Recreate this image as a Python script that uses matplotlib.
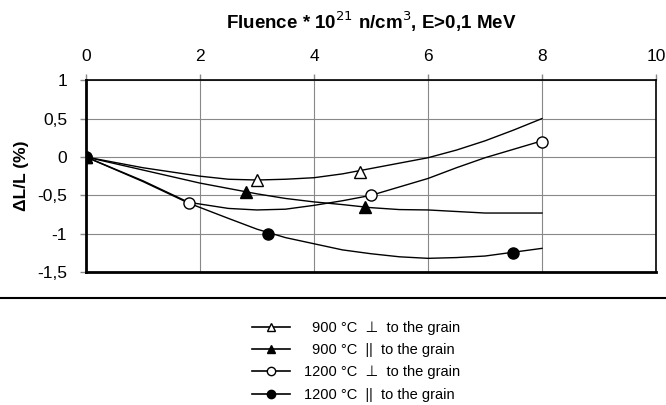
#!/usr/bin/env python3
"""
Dimensional change vs fluence - recreated chart
"""

import matplotlib
matplotlib.use('Agg')
import matplotlib.pyplot as plt
from matplotlib.lines import Line2D

plt.rcParams['font.family'] = ['Liberation Sans', 'DejaVu Sans']

# measured points
x_900_perp = [0, 3.0, 4.8]
y_900_perp = [0, -0.3, -0.2]
x_900_par = [0, 2.8, 4.9]
y_900_par = [0, -0.45, -0.65]
x_1200_perp = [0, 1.8, 5.0, 8.0]
y_1200_perp = [0, -0.6, -0.5, 0.2]
x_1200_par = [0, 3.2, 7.5]
y_1200_par = [0, -1.0, -1.25]

# trend curves
curve_x = [0, 1, 2, 2.5, 3, 3.5, 4, 4.5, 5, 5.5, 6, 6.5, 7, 7.5, 8]
curve_900_perp = [0, -0.14, -0.25, -0.29, -0.30, -0.29, -0.27, -0.22, -0.15,
                  -0.08, -0.01, 0.09, 0.21, 0.35, 0.50]
curve_900_par = [0, -0.17, -0.34, -0.41, -0.48, -0.54, -0.585, -0.62, -0.66,
                 -0.685, -0.69, -0.71, -0.73, -0.73, -0.73]
curve_1200_x = [0, 1, 1.8, 2.5, 3, 3.5, 4, 4.5, 5, 5.5, 6, 6.5, 7, 7.5, 8]
curve_1200_perp = [0, -0.31, -0.59, -0.67, -0.69, -0.68, -0.63, -0.57, -0.50,
                   -0.39, -0.28, -0.14, -0.01, 0.10, 0.21]
curve_1200_par = [0, -0.32, -0.60, -0.80, -0.94, -1.05, -1.13, -1.21, -1.26,
                  -1.30, -1.32, -1.31, -1.29, -1.24, -1.19]

labels = ['\u2007900 \u00b0C  \u22a5  to the grain',
          '\u2007900 \u00b0C  ||  to the grain',
          '1200 \u00b0C  \u22a5  to the grain',
          '1200 \u00b0C  ||  to the grain']

fig = plt.figure(figsize=(6.66, 4.05), dpi=100)
ax = fig.add_axes([0.129, 0.328, 0.856, 0.474])

lw = 1.0
ax.plot(curve_x, curve_900_perp, color='black', lw=lw)
ax.plot(curve_x, curve_900_par, color='black', lw=lw)
ax.plot(curve_1200_x, curve_1200_perp, color='black', lw=lw)
ax.plot(curve_1200_x, curve_1200_par, color='black', lw=lw)

ms = 8
ax.plot(x_900_perp, y_900_perp, ls='none', marker='^', ms=ms, mfc='white', mec='black', mew=1, zorder=5)
ax.plot(x_900_par, y_900_par, ls='none', marker='^', ms=ms, mfc='black', mec='black', mew=1, zorder=5)
ax.plot(x_1200_perp, y_1200_perp, ls='none', marker='o', ms=ms, mfc='white', mec='black', mew=1, zorder=5)
ax.plot(x_1200_par, y_1200_par, ls='none', marker='o', ms=ms, mfc='black', mec='black', mew=1, zorder=6)

ax.set_xlim(0, 10)
ax.set_ylim(-1.5, 1)
ax.set_xticks([0, 2, 4, 6, 8, 10])
ax.set_yticks([1, 0.5, 0, -0.5, -1, -1.5])
ax.set_yticklabels(['1', '0,5', '0', '-0,5', '-1', '-1,5'])
ax.xaxis.tick_top()
ax.xaxis.set_label_position('top')
ax.tick_params(axis='both', labelsize=12.5, length=4, color='#888888', width=1)
ax.tick_params(axis='x', pad=8)
ax.tick_params(axis='y', pad=9.5)
ax.grid(True, color='#888888', lw=0.8)
ax.set_axisbelow(True)

for side in ['left', 'bottom']:
    ax.spines[side].set_linewidth(2)
for side in ['top', 'right']:
    ax.spines[side].set_linewidth(1.2)

ax.set_xlabel('Fluence * 10$^{21}$ n/cm$^{3}$, E>0,1 MeV', fontsize=13.5, fontweight='bold', labelpad=14)
ax.set_ylabel('\u0394L/L (%)', fontsize=12.5, fontweight='bold', labelpad=6)

# separator line across the figure
fig.add_artist(Line2D([0, 1], [1 - 298 / 405, 1 - 298 / 405], color='black', lw=1.5,
                      transform=fig.transFigure))

handles = [
    Line2D([], [], color='black', lw=1.2, marker='^', ms=6, mfc='white', mec='black'),
    Line2D([], [], color='black', lw=1.2, marker='^', ms=6, mfc='black', mec='black'),
    Line2D([], [], color='black', lw=1.2, marker='o', ms=6, mfc='white', mec='black'),
    Line2D([], [], color='black', lw=1.2, marker='o', ms=6, mfc='black', mec='black'),
]
fig.legend(handles, labels, loc='center', bbox_to_anchor=(0.535, 0.108), frameon=False,
           fontsize=10.5, handlelength=2.6, labelspacing=0.57, handletextpad=1.0)

fig.savefig('out.png', dpi=100)
